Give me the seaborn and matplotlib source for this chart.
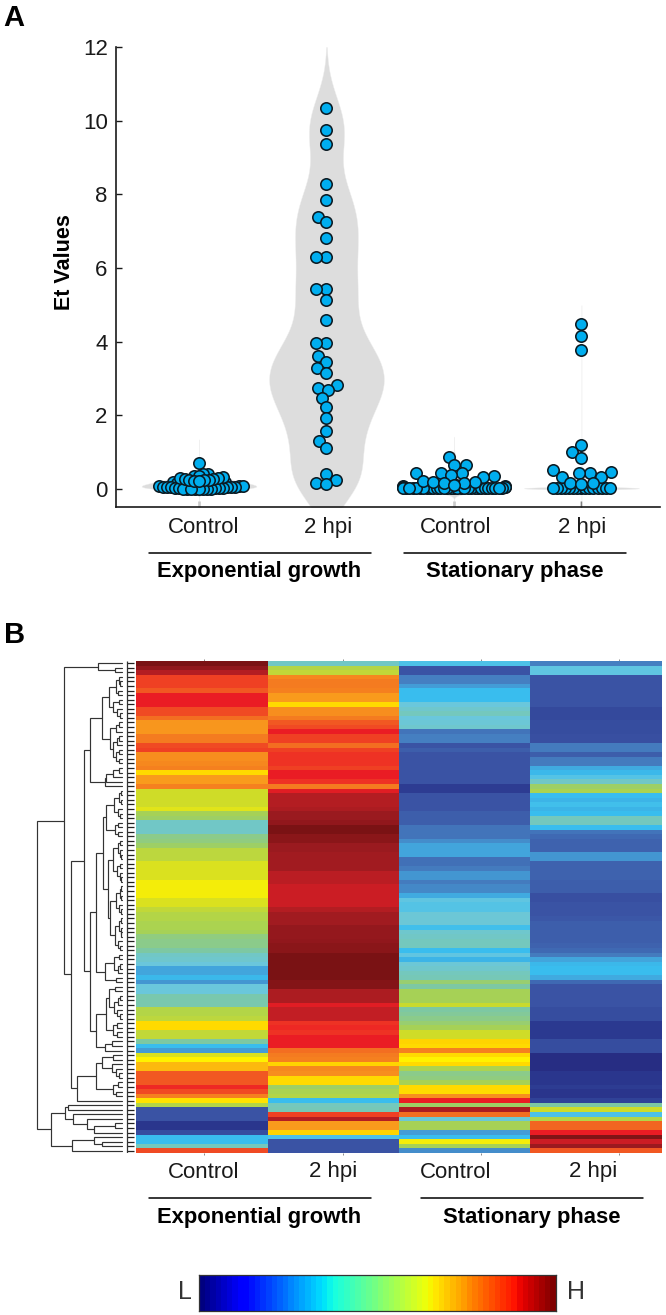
import numpy as np
import pandas as pd
import matplotlib
matplotlib.use("Agg")
import matplotlib.pyplot as plt
from matplotlib.colors import LinearSegmentedColormap
import seaborn as sns

W, H = 666, 1315

# ---------- Panel A data ----------
exp_control = [0.71, 0.41, 0.40, 0.36, 0.34, 0.32, 0.30, 0.30, 0.28, 0.26, 0.25, 0.24, 0.24, 0.22, 0.21,
               0.20, 0.20, 0.18, 0.18, 0.17, 0.16, 0.16, 0.15, 0.14, 0.14, 0.12, 0.12, 0.11, 0.10, 0.10,
               0.09, 0.08, 0.08, 0.07, 0.06, 0.06, 0.05, 0.05, 0.04, 0.04, 0.03, 0.03, 0.02, 0.02, 0.02,
               0.01, 0.01, 0.01, 0.00, 0.00, 0.00, 0.00, 0.00]
exp_2hpi = [10.34, 9.75, 9.37, 8.27, 7.85, 7.39, 7.24, 6.81, 6.30, 6.30, 5.42, 5.42, 5.13, 4.60, 3.96, 3.96,
            3.62, 3.46, 3.28, 3.16, 2.82, 2.74, 2.69, 2.47, 2.23, 1.92, 1.58, 1.31, 1.12, 0.41, 0.24, 0.17, 0.14]
stat_control = [0.88, 0.66, 0.65, 0.43, 0.42, 0.42, 0.38, 0.35, 0.33, 0.22, 0.20, 0.18, 0.16, 0.15, 0.12, 0.10,
                0.10, 0.08, 0.07, 0.05, 0.05, 0.04, 0.04, 0.03, 0.03, 0.03,
                0.02, 0.02, 0.02, 0.02, 0.02, 0.02, 0.02, 0.02, 0.02, 0.02, 0.02, 0.02, 0.02, 0.02, 0.02,
                0.02, 0.02, 0.02, 0.02, 0.02, 0.02, 0.02, 0.02, 0.02, 0.02, 0.02, 0.02]
stat_2hpi = [4.48, 4.15, 3.77, 1.19, 1.00, 0.83, 0.52, 0.47, 0.43, 0.42, 0.33, 0.33, 0.15, 0.15, 0.14,
             0.02, 0.02, 0.02, 0.02, 0.02, 0.02, 0.02, 0.02, 0.02, 0.02, 0.02, 0.02, 0.02, 0.02, 0.02]
group_labels = ["Control", "2 hpi", "Control", "2 hpi"]
phase_labels = ["Exponential growth", "Stationary phase"]
y_ticks = [0, 2, 4, 6, 8, 10, 12]

# ---------- Panel B data (108 genes x 4 conditions, 0 = low, 1 = high) ----------
hm_exp_control = [1.00, 0.97, 0.93, 0.85, 0.85, 0.85, 0.83, 0.88, 0.88, 0.88, 0.84, 0.84, 0.81, 0.76, 0.76, 0.76,
                  0.80, 0.80, 0.84, 0.85, 0.77, 0.77, 0.78, 0.79, 0.70, 0.75, 0.75, 0.79, 0.62, 0.62, 0.62, 0.62,
                  0.64, 0.56, 0.55, 0.46, 0.46, 0.46, 0.52, 0.53, 0.55, 0.59, 0.59, 0.59, 0.63, 0.63, 0.63, 0.63,
                  0.66, 0.66, 0.66, 0.66, 0.63, 0.63, 0.60, 0.58, 0.58, 0.57, 0.57, 0.56, 0.53, 0.52, 0.52, 0.50,
                  0.46, 0.45, 0.43, 0.33, 0.33, 0.37, 0.31, 0.43, 0.43, 0.49, 0.49, 0.49, 0.58, 0.58, 0.59, 0.70,
                  0.70, 0.60, 0.60, 0.50, 0.38, 0.32, 0.63, 0.67, 0.73, 0.73, 0.83, 0.83, 0.83, 0.87, 0.84, 0.79,
                  0.69, 0.58, 0.20, 0.20, 0.20, 0.10, 0.10, 0.18, 0.38, 0.38, 0.47, 0.84]
hm_exp_2hpi = [0.46, 0.58, 0.60, 0.78, 0.80, 0.80, 0.79, 0.75, 0.75, 0.70, 0.77, 0.77, 0.80, 0.83, 0.84, 0.88,
               0.85, 0.85, 0.81, 0.85, 0.86, 0.86, 0.86, 0.85, 0.88, 0.88, 0.86, 0.80, 0.89, 0.93, 0.93, 0.93,
               0.94, 0.96, 0.96, 0.97, 1.00, 1.00, 0.98, 0.98, 0.96, 0.96, 0.95, 0.95, 0.95, 0.95, 0.925, 0.925,
               0.925, 0.91, 0.91, 0.91, 0.91, 0.91, 0.93, 0.95, 0.95, 0.95, 0.965, 0.965, 0.965, 0.97, 0.98, 0.98,
               1.00, 1.00, 1.00, 1.00, 1.00, 1.00, 0.985, 0.985, 0.94, 0.94, 0.94, 0.89, 0.915, 0.915, 0.915, 0.86,
               0.87, 0.86, 0.88, 0.88, 0.88, 0.81, 0.80, 0.79, 0.71, 0.78, 0.77, 0.70, 0.70, 0.55, 0.57, 0.58,
               0.38, 0.47, 0.48, 0.85, 0.93, 0.75, 0.75, 0.71, 0.40, 0.20, 0.20, 0.20]
hm_stat_control = [0.40, 0.20, 0.20, 0.28, 0.28, 0.32, 0.38, 0.38, 0.38, 0.43, 0.45, 0.47, 0.43, 0.44, 0.45, 0.26,
                   0.28, 0.28, 0.20, 0.22, 0.20, 0.20, 0.20, 0.20, 0.20, 0.20, 0.20, 0.13, 0.13, 0.20, 0.20, 0.20,
                   0.20, 0.22, 0.22, 0.22, 0.26, 0.26, 0.26, 0.30, 0.33, 0.33, 0.33, 0.25, 0.25, 0.27, 0.31, 0.31,
                   0.27, 0.29, 0.29, 0.34, 0.42, 0.41, 0.41, 0.44, 0.44, 0.44, 0.39, 0.45, 0.46, 0.47, 0.47, 0.38,
                   0.42, 0.36, 0.44, 0.45, 0.47, 0.48, 0.54, 0.50, 0.56, 0.56, 0.56, 0.61, 0.50, 0.51, 0.52, 0.54,
                   0.56, 0.62, 0.62, 0.71, 0.70, 0.79, 0.70, 0.67, 0.70, 0.57, 0.52, 0.53, 0.56, 0.70, 0.70, 0.77,
                   0.88, 0.55, 0.94, 0.81, 0.44, 0.56, 0.56, 0.32, 0.38, 0.66, 0.56, 0.30]
hm_stat_2hpi = [0.28, 0.42, 0.42, 0.20, 0.20, 0.20, 0.20, 0.20, 0.20, 0.20, 0.17, 0.17, 0.17, 0.18, 0.18, 0.18,
                0.19, 0.19, 0.27, 0.27, 0.22, 0.27, 0.27, 0.34, 0.37, 0.41, 0.46, 0.55, 0.57, 0.38, 0.36, 0.39,
                0.36, 0.38, 0.47, 0.47, 0.38, 0.26, 0.24, 0.23, 0.23, 0.23, 0.31, 0.31, 0.23, 0.23, 0.23, 0.23,
                0.22, 0.22, 0.22, 0.19, 0.19, 0.20, 0.20, 0.20, 0.21, 0.22, 0.22, 0.22, 0.22, 0.22, 0.23, 0.24,
                0.27, 0.33, 0.37, 0.38, 0.38, 0.34, 0.24, 0.20, 0.20, 0.20, 0.20, 0.20, 0.18, 0.18, 0.18, 0.12,
                0.12, 0.12, 0.12, 0.18, 0.18, 0.18, 0.03, 0.03, 0.03, 0.03, 0.10, 0.10, 0.10, 0.13, 0.09, 0.09,
                0.15, 0.50, 0.62, 0.40, 0.58, 0.82, 0.82, 0.88, 0.99, 0.91, 0.96, 0.83]

# Clustering tree: (merge height, upper child, lower child); 0 is a gene.
clade_3_7 = (5.5, (3, 0, (1.5, 0, 0)), (4, 0, 0))
clade_8_12 = (9, (3, 0, 0), (5, 0, (2, 0, 0)))
clade_13_22 = (12, (6, (3, 0, 0), 0), (9, (5, (3, 0, 0), 0), (6, (3, 0, 0), (3, 0, 0))))
clade_23_27 = (17, (16, (9, (3, 0, 0), 0), 0), 0)
clade_3_27 = (32, (20, (13, clade_3_7, clade_8_12), clade_13_22), clade_23_27)
clade_28_38 = (16, (8, (3, (1, 0, 0), (1, 0, 0)), (4, 0, (2, 0, 0))), (7, (4, 0, 0), (4, 0, 0)))
clade_39_48 = (9, (4, (2, 0, 0), (2, 0, (1, 0, 0))), (5, (2, 0, 0), (2, 0, (1, 0, 0))))
clade_49_63 = (12, (6, (2, (1, 0, 0), (1, 0, 0)), (3, 0, (1, 0, 0))),
               (7, (3, (1, 0, 0), (1, 0, (0.5, 0, 0))), (4, 0, (2, 0, 0))))
clade_64_70 = (17, (8, (3, 0, 0), (4, (2, 0, 0), 0)), (6, 0, 0))
clade_28_70 = (26, (19, clade_28_38, (14, clade_39_48, clade_49_63)), clade_64_70)
clade_71_85 = (26, (16, (13, (7, 0, 0), (8, (4, (2, 0, 0), 0), (5, 0, (2, 0, 0)))), (9, (5, 0, 0), (5, 0, 0))),
               (17, (10, 0, 0), 0))
clade_86_96 = (45, (26, (20, (9, 0, 0), (10, 0, (6, 0, (3, 0, 0)))), (9, (4, 0, 0), (6, 0, 0))), 0)
clade_97_107 = (71, (57, (54, 0, 0), (49, 0, (35, 0, (28, (7, 0, 0), 0)))), (50, (28, 0, (20, 0, 0)), 0))
tree = (85, (58, (24, 0, (7, 0, 0)), (51, (38, clade_3_27, (32, clade_28_70, clade_71_85)), clade_86_96)),
        clade_97_107)

# ---------- Style ----------
sns.set_theme(style="white")
plt.rcParams["font.family"] = ["Liberation Sans", "DejaVu Sans"]
INK = "#1a1a1a"
muted_stops = [(0.00, "#262a7f"), (0.12, "#2b3990"), (0.20, "#3a53a4"), (0.28, "#4580c2"), (0.33, "#42a5dc"),
               (0.38, "#39bdee"), (0.43, "#6ac7dd"), (0.50, "#7cc8a6"), (0.56, "#a5d157"), (0.62, "#cfdc28"),
               (0.67, "#fff200"), (0.71, "#ffd400"), (0.75, "#f99d1c"), (0.80, "#f47b20"), (0.84, "#f04e23"),
               (0.88, "#ed1c24"), (0.92, "#bf1e24"), (0.96, "#9b1a1f"), (1.00, "#7a1214")]
muted = LinearSegmentedColormap.from_list("muted", muted_stops)

fig = plt.figure(figsize=(W / 100, H / 100), dpi=100, facecolor="white")


def axes_px(x0, y0, x1, y1):
    return fig.add_axes([x0 / W, 1 - y1 / H, (x1 - x0) / W, (y1 - y0) / H])


def text_px(x, y, s, **kw):
    kw.setdefault("ha", "center")
    kw.setdefault("va", "center")
    fig.text(x / W, 1 - y / H, s, **kw)


def rule_px(x0, x1, y, lw=1.1):
    fig.add_artist(plt.Line2D([x0 / W, x1 / W], [1 - y / H] * 2, color="black", lw=lw))


# ---------- Panel A ----------
ax = axes_px(116, 47, 660, 507)
ax.set_xlim(-0.651, 3.616)
ax.set_ylim(-0.49, 12)
# position, values, violin width, bandwidth, cut, split value, packing below and above the split
groups = [(0, exp_control, 0.9, 0.075, 8.5, 0.20, 1.6, 2.2),
          (1, exp_2hpi, 0.9, 0.7, 2.37, -1.0, 6.0, 6.0),
          (2, stat_control, 0.9, 0.09, 6.0, 0.10, 1.2, 6.0),
          (3, stat_2hpi, 0.9, 0.03, 17.0, 0.10, 1.6, 6.5)]
for pos, vals, width, bw, cut, split, pack_low, pack_high in groups:
    vals = np.array(vals)
    sns.violinplot(x=np.full(len(vals), pos), y=vals, native_scale=True, ax=ax, width=width, inner=None,
                   bw_method=bw / vals.std(ddof=1), cut=cut, gridsize=1500, color="#dddddd",
                   linecolor="#eeeeee", linewidth=0.3, saturation=1)
for pos, vals, width, bw, cut, split, pack_low, pack_high in groups:
    vals = np.array(vals)
    for subset, packing in ((vals[vals <= split], pack_low), (vals[vals > split], pack_high)):
        if len(subset) == 0:
            continue
        n_before = len(ax.collections)
        sns.swarmplot(x=np.full(len(subset), pos), y=subset, native_scale=True, ax=ax, size=packing,
                      color="#00aeef", linewidth=1.15, edgecolor="#0b1a22", warn_thresh=1)
        for coll in ax.collections[n_before:]:
            if "draw" in coll.__dict__:
                del coll.__dict__["draw"]
            coll.set_sizes([8.2 ** 2])
            coll.set_zorder(5)
ax.set_xlim(-0.651, 3.616)
ax.set_ylim(-0.49, 12)
sns.despine(ax=ax)
for side in ("left", "bottom"):
    ax.spines[side].set_linewidth(1.2)
    ax.spines[side].set_color(INK)
ax.set_xticks(range(4))
ax.set_xticklabels([])
ax.set_yticks(y_ticks)
ax.set_xlabel("")
ax.set_ylabel("")
ax.tick_params(axis="both", direction="in", length=4.5, width=1, color=INK, left=True, bottom=True)
ax.tick_params(axis="y", labelsize=16, labelcolor=INK, pad=6)
text_px(65, 262, "Et Values", fontsize=15.5, fontweight="bold", rotation=90, color="black")
for x, s in zip([204, 328, 456, 582], group_labels):
    text_px(x, 527, s, fontsize=16, color=INK)
rule_px(149, 371, 553)
rule_px(404, 626, 553)
text_px(259, 572, phase_labels[0], fontsize=15.8, fontweight="bold", color="black")
text_px(515, 572, phase_labels[1], fontsize=15.8, fontweight="bold", color="black")
text_px(14, 18, "A", fontsize=21, fontweight="bold", color="black")
text_px(15, 635, "B", fontsize=21, fontweight="bold", color="black")

# ---------- Panel B heatmap ----------
hm = pd.DataFrame({"Exp control": hm_exp_control, "Exp 2 hpi": hm_exp_2hpi,
                   "Stat control": hm_stat_control, "Stat 2 hpi": hm_stat_2hpi})
axh = axes_px(136, 661, 662, 1153)
sns.heatmap(hm, ax=axh, cmap=muted, vmin=0, vmax=1, cbar=False, xticklabels=False, yticklabels=False)
axh.set_xticks([0.52, 1.575, 2.625, 3.675])
axh.set_xticklabels([])
axh.tick_params(axis="x", bottom=True, top=True, direction="out", length=1.2, width=0.6, color="#777777")
for x, s in zip([204, 333, 456, 593], group_labels):
    text_px(x, 1172, s, fontsize=16, color=INK)
rule_px(149, 371, 1198)
rule_px(421, 643, 1198)
text_px(259, 1217, phase_labels[0], fontsize=15.8, fontweight="bold", color="black")
text_px(532, 1217, phase_labels[1], fontsize=15.8, fontweight="bold", color="black")

# ---------- Dendrogram ----------
axd = axes_px(30, 661, 136, 1153)
axd.set_xlim(92, -14)
axd.set_ylim(len(hm), 0)
axd.axis("off")
leaf_counter = [0]


def draw_node(node):
    if node == 0:
        y = leaf_counter[0] + 0.5
        leaf_counter[0] += 1
        return 0.0, y
    h, upper, lower = node
    h0, y0 = draw_node(upper)
    h1, y1 = draw_node(lower)
    axd.plot([h0, h, h, h1], [y0, y0, y1, y1], color="#333333", lw=0.85, solid_joinstyle="miter")
    return h, (y0 + y1) / 2


draw_node(tree)
rows = np.arange(len(hm)) + 0.5
axd.hlines(rows, -5.5, -12, color="#222222", lw=0.9)
axd.vlines(-5.5, 0, len(hm), color="#333333", lw=0.9)

# ---------- Colour key ----------
axc = axes_px(199, 1275, 556, 1311)
sns.heatmap(pd.DataFrame([np.arange(64)]), ax=axc, cmap="jet", cbar=False, xticklabels=False, yticklabels=False)
for s in axc.spines.values():
    s.set_visible(True)
    s.set_linewidth(0.9)
    s.set_color("#333333")
axc.set_xticks([12.3, 24.8, 37.2, 49.5, 62.0])
axc.set_xticklabels([])
axc.tick_params(axis="x", bottom=True, top=True, direction="in", length=3, width=0.8, color="#333333")
text_px(185, 1292, "L", fontsize=18, color="#333333")
text_px(576, 1292, "H", fontsize=18, color="#333333")

fig.savefig("out.png", dpi=100, facecolor="white")
